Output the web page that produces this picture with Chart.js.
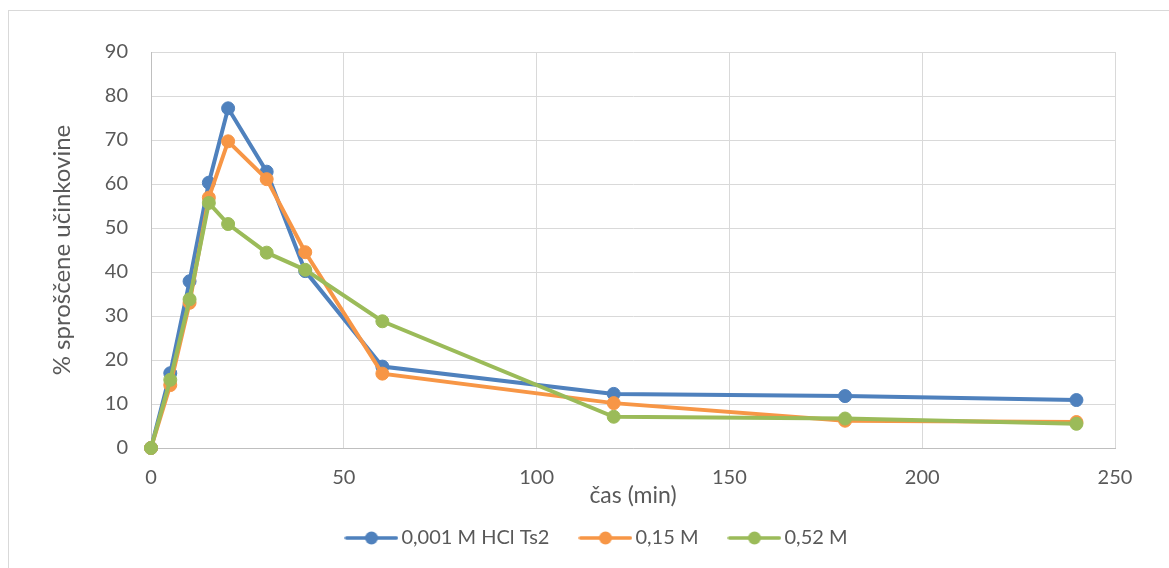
<!DOCTYPE html>
<html lang="sl">
<head>
    <meta charset="UTF-8">
    <title>Sproščanje učinkovine</title>
    <style>
        body {
            margin: 0;
            padding: 0;
            background-color: white;
            overflow: hidden;
        }
        #frame {
            position: absolute;
            left: 8px;
            top: 10px;
            width: 1200px;
            height: 600px;
            border: 1px solid #d9d9d9;
        }
        #chartBox {
            position: absolute;
            left: 0;
            top: 0;
            width: 1169px;
            height: 568px;
        }
    </style>
</head>
<body>
    <div id="frame"></div>
    <div id="chartBox">
        <canvas id="releaseChart" width="1169" height="568"></canvas>
    </div>
    <script src="https://cdn.jsdelivr.net/npm/chart.js"></script>
    <script>
        // time points (min)
        const times = [0, 5, 10, 15, 20, 30, 40, 60, 120, 180, 240];

        // % released per medium
        const hclTs2 = [0, 17.0, 37.9, 60.3, 77.2, 62.8, 40.2, 18.5, 12.3, 11.8, 10.9];
        const m015 = [0, 14.3, 33.0, 56.9, 69.7, 61.1, 44.5, 16.9, 10.2, 6.2, 5.9];
        const m052 = [0, 15.5, 33.8, 55.7, 50.9, 44.4, 40.5, 28.8, 7.1, 6.7, 5.5];

        const seriesNames = ["0,001 M HCl Ts2", "0,15 M", "0,52 M"];
        const seriesColors = ["#4f81bd", "#f79646", "#9bbb59"];
        const seriesValues = [hclTs2, m015, m052];

        const xTicks = [0, 50, 100, 150, 200, 250];
        const yTicks = [0, 10, 20, 30, 40, 50, 60, 70, 80, 90];

        const textColor = "#595959";
        const gridColor = "#d9d9d9";
        const fontFamily = "Lato, 'Open Sans', sans-serif";

        // legend marker: short line with a dot in the middle
        function legendMarker(color) {
            const c = document.createElement("canvas");
            c.width = 54;
            c.height = 14;
            const g = c.getContext("2d");
            g.strokeStyle = color;
            g.lineWidth = 3.5;
            g.lineCap = "round";
            g.beginPath();
            g.moveTo(2, 7);
            g.lineTo(52, 7);
            g.stroke();
            g.fillStyle = color;
            g.beginPath();
            g.arc(27, 7, 6.5, 0, Math.PI * 2);
            g.fill();
            return c;
        }

        // legend sits centred under the whole frame, not just the plot
        const legendShift = {
            id: "legendShift",
            afterLayout(chart) {
                chart.legend.left += 42;
                chart.legend.right += 42;
            }
        };

        const datasets = seriesValues.map((vals, i) => ({
            label: seriesNames[i],
            data: times.map((t, j) => ({ x: t, y: vals[j] })),
            showLine: true,
            clip: false,
            borderColor: seriesColors[i],
            backgroundColor: seriesColors[i],
            borderWidth: 4,
            pointRadius: 6.5,
            pointBorderWidth: 1,
            pointHoverRadius: 6.5,
            order: 2 - i,
            markerImg: legendMarker(seriesColors[i])
        }));

        new Chart(document.getElementById("releaseChart"), {
            type: "scatter",
            data: { datasets: datasets },
            plugins: [legendShift],
            options: {
                responsive: false,
                animation: false,
                layout: {
                    padding: { left: 0, top: 52, right: 54, bottom: 10 }
                },
                scales: {
                    x: {
                        type: "linear",
                        min: 0,
                        max: 250,
                        afterBuildTicks: (scale) => {
                            scale.ticks = xTicks.map(v => ({ value: v }));
                        },
                        afterFit: (scale) => {
                            scale.height = 44;
                        },
                        grid: {
                            color: gridColor,
                            drawTicks: false
                        },
                        border: { color: "#bfbfbf" },
                        ticks: {
                            color: textColor,
                            padding: 18,
                            font: { family: fontFamily, size: 20 }
                        },
                        title: {
                            display: true,
                            text: "čas (min)",
                            color: textColor,
                            padding: { top: 0, bottom: -17 },
                            font: { family: fontFamily, size: 23 }
                        }
                    },
                    y: {
                        type: "linear",
                        min: 0,
                        max: 90,
                        afterBuildTicks: (scale) => {
                            scale.ticks = yTicks.map(v => ({ value: v }));
                        },
                        afterFit: (scale) => {
                            scale.width = 151;
                        },
                        grid: {
                            color: gridColor,
                            drawTicks: false
                        },
                        border: { color: "#bfbfbf" },
                        ticks: {
                            color: textColor,
                            padding: 23,
                            font: { family: fontFamily, size: 20 }
                        },
                        title: {
                            display: true,
                            text: "% sproščene učinkovine",
                            color: textColor,
                            padding: { top: 48, bottom: 0 },
                            font: { family: fontFamily, size: 24 }
                        }
                    }
                },
                plugins: {
                    tooltip: { enabled: false },
                    legend: {
                        position: "bottom",
                        labels: {
                            color: textColor,
                            font: { family: fontFamily, size: 20 },
                            usePointStyle: true,
                            pointStyleWidth: 40,
                            boxHeight: 14,
                            padding: 36,
                            generateLabels: (chart) => chart.data.datasets.map((ds, i) => ({
                                text: ds.label,
                                fillStyle: ds.borderColor,
                                strokeStyle: ds.borderColor,
                                fontColor: textColor,
                                lineWidth: 0,
                                pointStyle: ds.markerImg,
                                hidden: false,
                                datasetIndex: i
                            }))
                        }
                    }
                }
            }
        });
    </script>
</body>
</html>
